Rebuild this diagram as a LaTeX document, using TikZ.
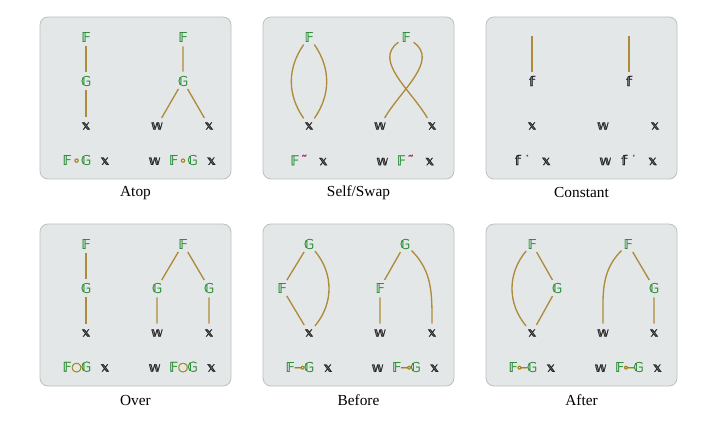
\documentclass[tikz,border=0pt]{standalone}
\usepackage{fontspec}
\usepackage{graphicx}
\setmainfont{Liberation Serif}
\newfontfamily\bqnfont[FakeBold=1.2]{DejaVu Sans}
\definecolor{wire}{HTML}{AD8B3B}
\definecolor{fngreen}{HTML}{2F8F3A}
\definecolor{argdark}{HTML}{262626}
\definecolor{onemod}{HTML}{9B3567}
\definecolor{twomod}{HTML}{A08516}
\definecolor{panelbg}{HTML}{E4E7E7}
\definecolor{panelrule}{HTML}{BCC0C0}
\newcommand{\ch}[1]{\makebox[7.1pt]{#1}}
\newcommand{\Fg}{\ch{\color{fngreen}𝔽}}
\newcommand{\Gg}{\ch{\color{fngreen}𝔾}}
\newcommand{\xa}{\ch{\color{argdark}𝕩}}
\newcommand{\wa}{\ch{\color{argdark}𝕨}}
\newcommand{\fa}{\ch{\color{argdark}𝕗}}
\newcommand{\om}[1]{\ch{\color{onemod}#1}}
\newcommand{\tm}[1]{\ch{\color{twomod}#1}}
\tikzset{
  glyph/.style={circle, inner sep=0pt, minimum size=13.5pt, font=\bqnfont\fontsize{10}{12}\selectfont},
  fn/.style={glyph, text=fngreen},
  arg/.style={glyph, text=argdark},
  formula/.style={inner sep=0pt, font=\bqnfont\fontsize{10}{12}\selectfont},
  wire/.style={draw=wire, line width=1pt},
  panel/.style={fill=panelbg, draw=panelrule, line width=0.6pt, rounded corners=6pt},
  caption/.style={font=\fontsize{11.5}{13}\selectfont}
}

\begin{document}
\begin{tikzpicture}[x=0.75pt, y=0.75pt]
\useasboundingbox (0,0) rectangle (720,-427);
\foreach \dx/\dy/\name in {0/0/Atop, 223/0/{Self/Swap}, 446/0/Constant, 0/207/Over, 223/207/Before, 446/207/After}{
  \begin{scope}[shift={(\dx,-\dy)}]
    \draw[panel] (40,-17) rectangle (231,-179);
    \node[caption] at (135.5,-193) {\name};
  \end{scope}
}

% Atop
\node[fn] (atF) at (86,-37) {𝔽};
\node[fn] (atG) at (86,-81) {𝔾};
\node[arg] (atx) at (86,-126) {𝕩};
\draw[wire] (atF) -- (atG) -- (atx);
\node[fn] (atF2) at (183,-37) {𝔽};
\node[fn] (atG2) at (183,-81) {𝔾};
\node[arg] (atw) at (157,-126) {𝕨};
\node[arg] (atx2) at (209,-126) {𝕩};
\draw[wire] (atF2) -- (atG2) -- (atw);
\draw[wire] (atG2) -- (atx2);
\node[formula] (atexp) at (86,-160) {\Fg\tm{∘}\Gg\ch{}\xa};
\node[formula] (atexp2) at (183,-160) {\wa\ch{}\Fg\tm{∘}\Gg\ch{}\xa};

% Self/Swap
\begin{scope}[shift={(223,0)}]
\node[fn] (swF) at (86,-37) {𝔽};
\node[arg] (swx) at (86,-126) {𝕩};
\draw[wire] (swF) to[out=-125, in=125] (swx);
\draw[wire] (swF) to[out=-55, in=55] (swx);
\node[fn] (swF2) at (183,-37) {𝔽};
\node[arg] (sww) at (157,-126) {𝕨};
\node[arg] (swx2) at (209,-126) {𝕩};
\draw[wire] (swF2) to[out=-145, in=120] (swx2);
\draw[wire] (swF2) to[out=-35, in=60] (sww);
\node[formula] (swexp) at (86,-160) {\Fg\om{˜}\ch{}\xa};
\node[formula] (swexp2) at (183,-160) {\wa\ch{}\Fg\om{˜}\ch{}\xa};
\end{scope}

% Constant
\begin{scope}[shift={(446,0)}]
\coordinate (cotop) at (86,-36);
\node[arg] (cof) at (86,-81) {𝕗};
\node[arg] (cox) at (86,-126) {𝕩};
\draw[wire] (cotop) -- (cof);
\coordinate (cotop2) at (183,-36);
\node[arg] (cof2) at (183,-81) {𝕗};
\node[arg] (cow) at (157,-126) {𝕨};
\node[arg] (cox2) at (209,-126) {𝕩};
\draw[wire] (cotop2) -- (cof2);
\node[formula] (coexp) at (86,-160) {\fa\om{˙}\ch{}\xa};
\node[formula] (coexp2) at (183,-160) {\wa\ch{}\fa\om{˙}\ch{}\xa};
\end{scope}

% Over
\begin{scope}[shift={(0,-207)}]
\node[fn] (ovF) at (86,-37) {𝔽};
\node[fn] (ovG) at (86,-81) {𝔾};
\node[arg] (ovx) at (86,-126) {𝕩};
\draw[wire] (ovF) -- (ovG) -- (ovx);
\node[fn] (ovF2) at (183,-37) {𝔽};
\node[fn] (ovGw) at (157,-81) {𝔾};
\node[fn] (ovGx) at (209,-81) {𝔾};
\node[arg] (ovw) at (157,-126) {𝕨};
\node[arg] (ovx2) at (209,-126) {𝕩};
\draw[wire] (ovw) -- (ovGw) -- (ovF2) -- (ovGx) -- (ovx2);
\node[formula] (ovexp) at (86,-160) {\Fg\tm{\raisebox{0.6pt}{\scalebox{0.92}{○}}}\Gg\ch{}\xa};
\node[formula] (ovexp2) at (183,-160) {\wa\ch{}\Fg\tm{\raisebox{0.6pt}{\scalebox{0.92}{○}}}\Gg\ch{}\xa};
\end{scope}

% Before
\begin{scope}[shift={(223,-207)}]
\node[fn] (beG) at (86,-37) {𝔾};
\node[fn] (beF) at (59,-81) {𝔽};
\node[arg] (bex) at (86,-126) {𝕩};
\draw[wire] (beG) -- (beF) -- (bex);
\draw[wire] (beG) to[out=-50, in=50] (bex);
\node[fn] (beG2) at (182,-37) {𝔾};
\node[fn] (beF2) at (157,-81) {𝔽};
\node[arg] (bew) at (157,-126) {𝕨};
\node[arg] (bex2) at (209,-126) {𝕩};
\draw[wire] (beG2) -- (beF2) -- (bew);
\draw[wire] (beG2) to[out=-45, in=90] (bex2);
\node[formula] (beexp) at (86,-160) {\Fg\tm{⊸}\Gg\ch{}\xa};
\node[formula] (beexp2) at (183,-160) {\wa\ch{}\Fg\tm{⊸}\Gg\ch{}\xa};
\end{scope}

% After
\begin{scope}[shift={(446,-207)}]
\node[fn] (afF) at (86,-37) {𝔽};
\node[fn] (afG) at (111,-81) {𝔾};
\node[arg] (afx) at (86,-126) {𝕩};
\draw[wire] (afF) -- (afG) -- (afx);
\draw[wire] (afF) to[out=-130, in=130] (afx);
\node[fn] (afF2) at (182,-37) {𝔽};
\node[fn] (afG2) at (208,-81) {𝔾};
\node[arg] (afw) at (157,-126) {𝕨};
\node[arg] (afx2) at (208,-126) {𝕩};
\draw[wire] (afF2) -- (afG2) -- (afx2);
\draw[wire] (afF2) to[out=-135, in=90] (afw);
\node[formula] (afexp) at (86,-160) {\Fg\tm{\reflectbox{⊸}}\Gg\ch{}\xa};
\node[formula] (afexp2) at (183,-160) {\wa\ch{}\Fg\tm{\reflectbox{⊸}}\Gg\ch{}\xa};
\end{scope}
\end{tikzpicture}
\end{document}
